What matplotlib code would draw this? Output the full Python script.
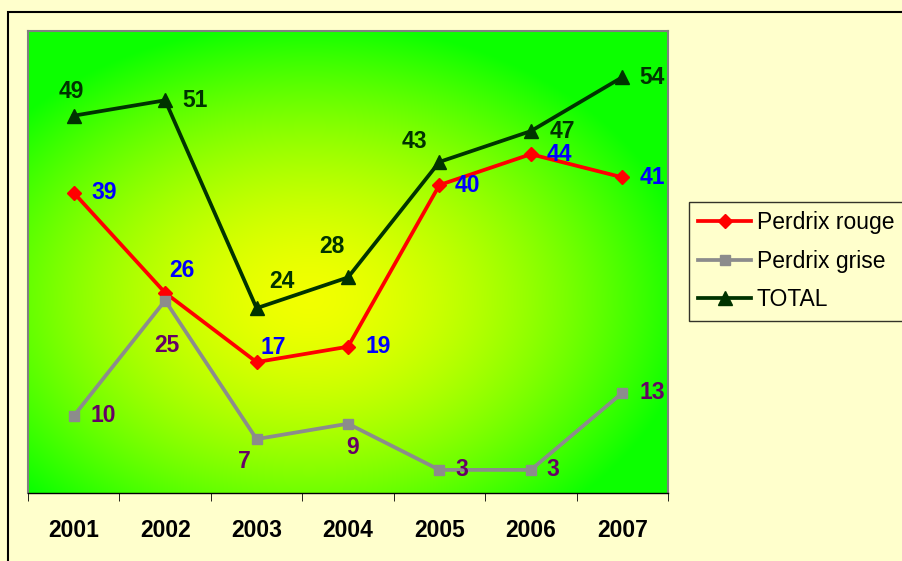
import numpy as np
import matplotlib
matplotlib.use("Agg")
import matplotlib.pyplot as plt
from matplotlib.patches import Rectangle

years = ["2001", "2002", "2003", "2004", "2005", "2006", "2007"]
perdrix_rouge = [39, 26, 17, 19, 40, 44, 41]
perdrix_grise = [10, 25, 7, 9, 3, 3, 13]
total = [49, 51, 24, 28, 43, 47, 54]

# label offsets in pixels (dx, dy) relative to each point
off_rouge = [(30, 0), (17, 22), (17, 15), (30, 0), (28, 0), (29, 0), (30, 0)]
off_grise = [(30, 0), (2, -45), (-12, -22), (5, -24), (22, 0), (22, 0), (30, 0)]
off_total = [(-2, 24), (30, 0), (25, 27), (-16, 31), (-25, 20), (32, 0), (30, 0)]

plt.rcParams['font.family'] = ['Liberation Sans', 'DejaVu Sans']

W, H = 902, 561
fig = plt.figure(figsize=(W / 100, H / 100), dpi=100)
fig.patch.set_facecolor('#FFFFCC')

# outer chart border (partially cut off)
fig.patches.append(Rectangle((8 / W, -0.1), 1.2, (H - 12) / H + 0.1,
                             transform=fig.transFigure, fill=False,
                             edgecolor='black', linewidth=1.5))

ax = fig.add_axes([28 / W, (H - 493) / H, (668 - 28) / W, (493 - 31) / H])
x = np.arange(len(years))
ax.set_xlim(-0.5, len(years) - 0.5)
ax.set_ylim(0, 60)

# radial gradient background: yellow centre, green edges
gx, gy = np.meshgrid(np.linspace(0, 1, 400), np.linspace(0, 1, 300))
r = np.sqrt(((gx - 0.44) / 0.6) ** 2 + ((gy - 0.42) / 0.6) ** 2)
t = np.clip(r, 0, 1) ** 1.6
c0 = np.array([0.95, 1.0, 0.0])
c1 = np.array([0.05, 1.0, 0.0])
img = c0[None, None, :] * (1 - t[..., None]) + c1[None, None, :] * t[..., None]
ax.imshow(img, extent=[-0.5, len(years) - 0.5, 0, 60], origin='lower',
          aspect='auto', zorder=0, interpolation='bilinear')

ax.plot(x, perdrix_rouge, color='#FF0000', lw=2.7, marker='D', ms=7.5,
        label='Perdrix rouge', zorder=3)
ax.plot(x, perdrix_grise, color='#8C8C8C', lw=2.7, marker='s', ms=7.5,
        label='Perdrix grise', zorder=3)
ax.plot(x, total, color='#003300', lw=2.7, marker='^', ms=9.5,
        label='TOTAL', zorder=3)

for vals, offs, col in [(perdrix_rouge, off_rouge, '#0000FF'),
                        (perdrix_grise, off_grise, '#660066'),
                        (total, off_total, '#003300')]:
    for i, v in enumerate(vals):
        ax.annotate(str(v), (x[i], v), xytext=offs[i], textcoords='offset pixels',
                    ha='center', va='center', fontsize=16.5, fontweight='bold',
                    color=col, zorder=4)

ax.set_xticks(x)
ax.set_xticklabels(years, fontsize=16.5, fontweight='bold')
ax.set_xticks(np.arange(-0.5, len(years)), minor=True)
ax.tick_params(axis='x', which='major', length=0, pad=19)
ax.tick_params(axis='x', which='minor', length=6, direction='out', color='black')
ax.set_yticks([])
for s in ['top', 'left', 'right']:
    ax.spines[s].set_color('#808080')
    ax.spines[s].set_linewidth(1.5)
ax.spines['bottom'].set_color('black')
ax.spines['bottom'].set_linewidth(1.0)

leg = fig.legend(loc='upper left', bbox_to_anchor=(689 / W, (H - 202) / H),
                 fontsize=16.5, frameon=True, fancybox=False, handlelength=2.3,
                 labelspacing=0.68, borderpad=0.4, handletextpad=0.25,
                 borderaxespad=0)
leg.get_frame().set_edgecolor('black')
leg.get_frame().set_facecolor('#FFFFCC')
leg.get_frame().set_linewidth(1.0)

fig.savefig('out.png', dpi=100, facecolor=fig.get_facecolor())
